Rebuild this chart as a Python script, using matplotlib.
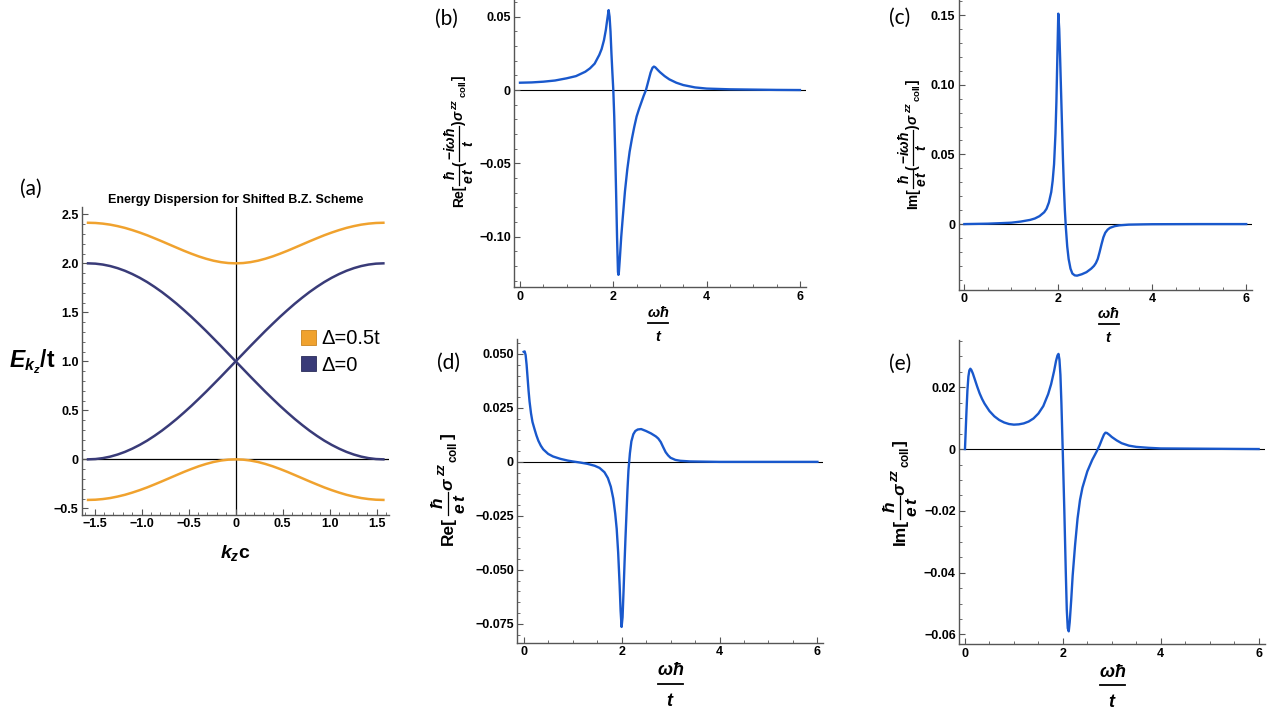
import matplotlib
matplotlib.use('Agg')
import matplotlib.pyplot as plt
from matplotlib.ticker import FixedLocator, MultipleLocator
from matplotlib.patches import Patch
from matplotlib.lines import Line2D

# ---------------- data ----------------
# (a) energy dispersion
kz = [-1.571, -1.492, -1.414, -1.335, -1.257, -1.178, -1.100, -1.021, -0.942, -0.864, -0.785,
      -0.707, -0.628, -0.550, -0.471, -0.393, -0.314, -0.236, -0.157, -0.079, 0.0,
      0.079, 0.157, 0.236, 0.314, 0.393, 0.471, 0.550, 0.628, 0.707, 0.785,
      0.864, 0.942, 1.021, 1.100, 1.178, 1.257, 1.335, 1.414, 1.492, 1.571]
e_gap0_up = [0.0, 0.0031, 0.0123, 0.0276, 0.0489, 0.0761, 0.1090, 0.1474, 0.1910, 0.2396, 0.2929,
             0.3506, 0.4122, 0.4775, 0.5460, 0.6173, 0.6910, 0.7666, 0.8436, 0.9215, 1.0,
             1.0785, 1.1564, 1.2334, 1.3090, 1.3827, 1.4540, 1.5225, 1.5878, 1.6494, 1.7071,
             1.7604, 1.8090, 1.8526, 1.8910, 1.9239, 1.9511, 1.9724, 1.9877, 1.9969, 2.0]
e_gap0_dn = [2.0, 1.9969, 1.9877, 1.9724, 1.9511, 1.9239, 1.8910, 1.8526, 1.8090, 1.7604, 1.7071,
             1.6494, 1.5878, 1.5225, 1.4540, 1.3827, 1.3090, 1.2334, 1.1564, 1.0785, 1.0,
             0.9215, 0.8436, 0.7666, 0.6910, 0.6173, 0.5460, 0.4775, 0.4122, 0.3506, 0.2929,
             0.2396, 0.1910, 0.1474, 0.1090, 0.0761, 0.0489, 0.0276, 0.0123, 0.0031, 0.0]
e_gap5_up = [2.4142, 2.4120, 2.4054, 2.3949, 2.3800, 2.3617, 2.3394, 2.3142, 2.2865, 2.2562, 2.2247,
             2.1925, 2.1600, 2.1282, 2.0982, 2.0707, 2.0467, 2.0269, 2.0122, 2.0031, 2.0,
             2.0031, 2.0122, 2.0269, 2.0467, 2.0707, 2.0982, 2.1282, 2.1600, 2.1925, 2.2247,
             2.2562, 2.2865, 2.3142, 2.3394, 2.3617, 2.3800, 2.3949, 2.4054, 2.4120, 2.4142]
e_gap5_dn = [-0.4142, -0.4120, -0.4054, -0.3949, -0.3800, -0.3617, -0.3394, -0.3142, -0.2865, -0.2562,
             -0.2247, -0.1925, -0.1600, -0.1282, -0.0982, -0.0707, -0.0467, -0.0269, -0.0122, -0.0031,
             0.0,
             -0.0031, -0.0122, -0.0269, -0.0467, -0.0707, -0.0982, -0.1282, -0.1600, -0.1925, -0.2247,
             -0.2562, -0.2865, -0.3142, -0.3394, -0.3617, -0.3800, -0.3949, -0.4054, -0.4120, -0.4142]
legend_labels = ["\u0394=0.5t", "\u0394=0"]

# (b) Re[(hbar/et)(-i w hbar/t) sigma]
xb = [0, 0.25, 0.5, 0.75, 1.0, 1.2, 1.4, 1.5, 1.6, 1.7, 1.75, 1.8, 1.84, 1.87, 1.9, 1.92, 1.94, 1.96,
      1.98, 2.0, 2.02, 2.04, 2.06, 2.08, 2.1, 2.11, 2.12, 2.14, 2.17, 2.2, 2.25, 2.3, 2.35, 2.4, 2.45,
      2.5, 2.55, 2.6, 2.65, 2.7, 2.75, 2.8, 2.84, 2.87, 2.9, 2.95, 3.0, 3.1, 3.2, 3.35, 3.5, 3.75,
      4.0, 4.5, 5.0, 5.5, 6.0]
yb = [0.005, 0.0052, 0.0057, 0.0065, 0.008, 0.0095, 0.0125, 0.0148, 0.018, 0.024, 0.028, 0.034,
      0.041, 0.048, 0.0545, 0.05, 0.04, 0.025, 0.012, 0.0, -0.018, -0.042, -0.07, -0.1, -0.124,
      -0.126, -0.124, -0.115, -0.1, -0.088, -0.069, -0.054, -0.042, -0.033, -0.025, -0.018, -0.013,
      -0.0085, -0.004, 0.0, 0.006, 0.012, 0.0152, 0.016, 0.0155, 0.0138, 0.0122, 0.0095, 0.0073,
      0.005, 0.0034, 0.0018, 0.001, 0.0005, 0.0003, 0.0001, 0.0]

# (c) Im[(hbar/et)(-i w hbar/t) sigma]
xc = [0, 0.5, 0.8, 1.0, 1.2, 1.4, 1.5, 1.6, 1.7, 1.75, 1.8, 1.85, 1.88, 1.91, 1.94, 1.96, 1.98, 2.0,
      2.02, 2.04, 2.06, 2.08, 2.1, 2.12, 2.14, 2.16, 2.19, 2.22, 2.26, 2.3, 2.35, 2.4, 2.45, 2.5, 2.6,
      2.7, 2.76, 2.8, 2.84, 2.88, 2.92, 2.96, 3.0, 3.05, 3.1, 3.2, 3.3, 3.5, 3.8, 4.0, 5.0, 6.0]
yc = [0, 0.0003, 0.0007, 0.001, 0.0018, 0.003, 0.004, 0.0057, 0.0085, 0.011, 0.0155, 0.023, 0.031,
      0.043, 0.065, 0.088, 0.12, 0.151, 0.14, 0.118, 0.094, 0.07, 0.046, 0.026, 0.01, -0.002, -0.016,
      -0.025, -0.032, -0.0355, -0.0368, -0.037, -0.0365, -0.036, -0.0345, -0.032, -0.030, -0.028,
      -0.025, -0.02, -0.0145, -0.0095, -0.0062, -0.004, -0.0027, -0.0015, -0.0009, -0.0004, -0.0002,
      -0.0001, 0, 0]

# (d) Re[(hbar/et) sigma]
xd = [0, 0.02, 0.04, 0.06, 0.08, 0.1, 0.12, 0.15, 0.18, 0.22, 0.26, 0.3, 0.35, 0.4, 0.5, 0.6, 0.75,
      0.9, 1.0, 1.15, 1.3, 1.45, 1.55, 1.65, 1.72, 1.78, 1.83, 1.87, 1.9, 1.93, 1.96, 1.98, 2.0, 2.02,
      2.04, 2.06, 2.08, 2.1, 2.12, 2.14, 2.17, 2.2, 2.24, 2.28, 2.33, 2.4, 2.5, 2.6, 2.7, 2.75, 2.8,
      2.85, 2.9, 2.95, 3.0, 3.1, 3.2, 3.4, 3.7, 4.0, 5.0, 6.0]
yd = [0.051, 0.0512, 0.0495, 0.045, 0.039, 0.033, 0.028, 0.0225, 0.0185, 0.0153, 0.0123, 0.0098,
      0.0075, 0.0058, 0.0037, 0.0025, 0.0014, 0.0006, 0.0002, -0.0003, -0.0009, -0.0018, -0.0028,
      -0.0048, -0.0075, -0.0115, -0.017, -0.024, -0.031, -0.042, -0.057, -0.069, -0.0765, -0.072,
      -0.06, -0.047, -0.035, -0.024, -0.013, -0.004, 0.004, 0.0095, 0.0128, 0.0143, 0.015, 0.0152,
      0.0143, 0.0132, 0.0118, 0.0108, 0.0092, 0.0068, 0.0045, 0.003, 0.0019, 0.0009, 0.0005, 0.0002,
      0.0001, 0, 0, 0]

# (e) Im[(hbar/et) sigma]
xe = [0, 0.01, 0.03, 0.05, 0.07, 0.09, 0.11, 0.13, 0.16, 0.2, 0.25, 0.3, 0.35, 0.4, 0.5, 0.6, 0.7,
      0.8, 0.9, 1.0, 1.1, 1.2, 1.3, 1.4, 1.5, 1.6, 1.7, 1.76, 1.82, 1.86, 1.89, 1.91, 1.93, 1.95, 1.97,
      2.0, 2.03, 2.06, 2.08, 2.1, 2.12, 2.14, 2.17, 2.2, 2.25, 2.3, 2.35, 2.4, 2.5, 2.6, 2.7, 2.75,
      2.8, 2.84, 2.87, 2.9, 2.95, 3.0, 3.1, 3.2, 3.35, 3.5, 3.75, 4.0, 5.0, 6.0]
ye = [0, 0.004, 0.012, 0.019, 0.0235, 0.0255, 0.026, 0.0256, 0.0245, 0.0226, 0.0202, 0.018, 0.0162,
      0.0147, 0.0123, 0.0106, 0.0094, 0.0086, 0.0081, 0.0079, 0.008, 0.0083, 0.0089, 0.0099, 0.0115,
      0.0139, 0.0178, 0.021, 0.0252, 0.0285, 0.0303, 0.0308, 0.029, 0.024, 0.015, -0.002, -0.02,
      -0.04, -0.052, -0.058, -0.059, -0.056, -0.049, -0.041, -0.031, -0.0225, -0.0165, -0.0125,
      -0.0072, -0.0035, -0.0005, 0.0012, 0.0032, 0.0047, 0.0053, 0.0052, 0.0046, 0.0039, 0.0028,
      0.0019, 0.0011, 0.0007, 0.0004, 0.0002, 0.0001, 0]

# tick values / labels
a_xticks = [-1.5, -1.0, -0.5, 0, 0.5, 1.0, 1.5]
a_xticklabels = ["\u22121.5", "\u22121.0", "\u22120.5", "0", "0.5", "1.0", "1.5"]
a_yticks = [-0.5, 0, 0.5, 1.0, 1.5, 2.0, 2.5]
a_yticklabels = ["\u22120.5", "0", "0.5", "1.0", "1.5", "2.0", "2.5"]
w_ticks = [0, 2, 4, 6]
w_ticklabels = ["0", "2", "4", "6"]
b_yticks = [-0.10, -0.05, 0, 0.05]
b_yticklabels = ["\u22120.10", "\u22120.05", "0", "0.05"]
c_yticks = [0, 0.05, 0.10, 0.15]
c_yticklabels = ["0", "0.05", "0.10", "0.15"]
d_yticks = [-0.075, -0.05, -0.025, 0, 0.025, 0.05]
d_yticklabels = ["\u22120.075", "\u22120.050", "\u22120.025", "0", "0.025", "0.050"]
e_yticks = [-0.06, -0.04, -0.02, 0, 0.02]
e_yticklabels = ["\u22120.06", "\u22120.04", "\u22120.02", "0", "0.02"]

# ---------------- style ----------------
plt.rcParams['font.family'] = ['Liberation Sans', 'DejaVu Sans']
plt.rcParams['mathtext.fontset'] = 'custom'
plt.rcParams['mathtext.rm'] = 'Liberation Sans:bold'
plt.rcParams['mathtext.it'] = 'Liberation Sans:italic:bold'
plt.rcParams['mathtext.bf'] = 'Liberation Sans:bold'
plt.rcParams['mathtext.sf'] = 'Liberation Sans:bold'

ORANGE = '#F0A22E'
NAVY = '#393B78'
BLUE = '#1958CC'
SPINE = '#555555'

W, H = 1278, 714
fig = plt.figure(figsize=(W / 100, H / 100), dpi=100)
renderer = fig.canvas.get_renderer()


def px_axes(l, t, r, b):
    return fig.add_axes([l / W, 1 - b / H, (r - l) / W, (b - t) / H])


def style(ax, xt, xtl, xminor, yt, ytl, yminor):
    for s in ['top', 'right']:
        ax.spines[s].set_visible(False)
    for s in ['left', 'bottom']:
        ax.spines[s].set_color(SPINE)
        ax.spines[s].set_linewidth(1.0)
    ax.xaxis.set_major_locator(FixedLocator(xt))
    ax.set_xticklabels(xtl)
    ax.xaxis.set_minor_locator(MultipleLocator(xminor))
    ax.yaxis.set_major_locator(FixedLocator(yt))
    ax.set_yticklabels(ytl)
    ax.yaxis.set_minor_locator(MultipleLocator(yminor))
    ax.tick_params(which='both', direction='in', color=SPINE, labelcolor='black',
                   labelsize=9, pad=2.5)
    ax.tick_params(which='major', length=4.3, width=0.8)
    ax.tick_params(which='minor', length=2.4, width=0.6)
    for lab in ax.get_xticklabels() + ax.get_yticklabels():
        lab.set_fontweight('bold')
    ax.patch.set_alpha(0)


def fx(x):
    return x / W


def fy(y):
    return 1 - y / H


def omega_frac(xc, y_num, y_line, y_den, half_w, size):
    """x-axis label  (omega hbar) / t  drawn as a stacked fraction."""
    fig.text(fx(xc), fy(y_num), r'$\omega\hbar$', fontsize=size, ha='center', va='center')
    fig.add_artist(Line2D([fx(xc - half_w), fx(xc + half_w)], [fy(y_line), fy(y_line)],
                          transform=fig.transFigure, color='black', lw=1.3))
    fig.text(fx(xc), fy(y_den), r'$t$', fontsize=size, ha='center', va='center')


def _rot_text(s, size, ha='left'):
    return fig.text(0, 0, s, fontsize=size, fontweight='bold', rotation=90,
                    rotation_mode='anchor', ha=ha, va='baseline')


def _length(t):
    return t.get_window_extent(renderer=renderer).height


def stacked_ylabel(items, x_base, y_bottom, y_top, size):
    """Vertical (rotated) label built from pieces, with real stacked fractions.
    items: ('t', text, v_offset_em, scale, gap_weight) or ('f', num, den, gap_weight)."""
    em = size * 100 / 72
    built = []
    total = 0.0
    wsum = 0.0
    for it in items:
        if it[0] == 't':
            _, s, v_em, sc, g = it
            t = _rot_text(s, size * sc)
            w = _length(t)
            built.append(('t', t, v_em, w, g))
        else:
            _, num, den, g = it
            tn = _rot_text(num, size, 'center')
            td = _rot_text(den, size, 'center')
            w = max(_length(tn), _length(td)) + 0.12 * em
            built.append(('f', (tn, td), 0, w, g))
        total += w
        wsum += g
    span = y_bottom - y_top
    unit = max((span - total) / wsum, 0.3) if wsum > 0 else 0
    full = total + unit * wsum
    u = (span - full) / 2
    bar_v = 0.28 * em
    for kind, obj, v_em, w, g in built:
        if kind == 't':
            obj.set_position((fx(x_base - v_em * em), fy(y_bottom - u)))
        else:
            tn, td = obj
            uc = u + w / 2
            tn.set_position((fx(x_base - (bar_v + 0.3 * em)), fy(y_bottom - uc)))
            td.set_position((fx(x_base - (bar_v - 0.3 * em - 0.68 * em)), fy(y_bottom - uc)))
            fig.add_artist(Line2D([fx(x_base - bar_v)] * 2,
                                  [fy(y_bottom - u), fy(y_bottom - u - w)],
                                  transform=fig.transFigure, color='black', lw=0.9))
        u += w + unit * g


# ---------------- (a) ----------------
axa = px_axes(82, 207, 389.3, 515)
axa.set_xlim(-1.635, 1.634)
axa.set_ylim(-0.568, 2.575)
axa.axhline(0, color='black', lw=0.9, zorder=1)
axa.axvline(0, color='black', lw=0.9, zorder=1)
axa.plot(kz, e_gap5_up, color=ORANGE, lw=1.8, zorder=3)
axa.plot(kz, e_gap5_dn, color=ORANGE, lw=1.8, zorder=3)
axa.plot(kz, e_gap0_up, color=NAVY, lw=1.8, zorder=3)
axa.plot(kz, e_gap0_dn, color=NAVY, lw=1.8, zorder=3)
style(axa, a_xticks, a_xticklabels, 0.1, a_yticks, a_yticklabels, 0.1)
axa.set_title("Energy Dispersion for Shifted B.Z. Scheme", fontsize=9, fontweight='bold', pad=3)
handles = [Patch(facecolor=ORANGE, edgecolor='#C98420', lw=0.6),
           Patch(facecolor=NAVY, edgecolor='#2A2C5A', lw=0.6)]
axa.legend(handles, legend_labels, loc='center left', bbox_to_anchor=(fx(301), fy(352)),
           bbox_transform=fig.transFigure, frameon=False, fontsize=14.5,
           handlelength=0.75, handleheight=0.75, handletextpad=0.25, labelspacing=0.35,
           borderpad=0, borderaxespad=0)
fig.text(fx(32), fy(362), r'$E_{k_z}$/t', fontsize=16.5, fontweight='bold', ha='center', va='center')
fig.text(fx(235.7), fy(553), r'$k_z$c', fontsize=14, fontweight='bold', ha='center', va='center')

# y-label pieces
long_tail = [('t', '(', 0, 1.0, 0.3),
             ('f', r'$-i\omega\hbar$', r'$t$', 0.3),
             ('t', ')', 0, 1.0, 0.5)]
sigma_part = [('t', r'$\sigma$', 0, 1.0, 0),
              ('t', r'$zz$', 0.42, 0.68, 0),
              ('t', r'$\mathrm{coll}$', -0.22, 0.68, 0.6),
              ('t', ']', 0, 1.0, 0)]


def label_items(prefix, with_omega):
    items = [('t', prefix + '[', 0, 1.0, 0.6), ('f', r'$\hbar$', r'$e\,t$', 0.4)]
    if with_omega:
        items += long_tail
    return items + sigma_part


# ---------------- (b) ----------------
axb = px_axes(514.3, 0, 806, 287.3)
axb.set_xlim(-0.122, 6.13)
axb.set_ylim(-0.1345, 0.0614)
axb.axhline(0, color='black', lw=0.8, zorder=1)
axb.plot(xb, yb, color=BLUE, lw=1.7, zorder=3)
style(axb, w_ticks, w_ticklabels, 0.5, b_yticks, b_yticklabels, 0.01)
stacked_ylabel(label_items('Re', True), 463.3, 205, 78, 10)
omega_frac(658.3, 312.3, 322.7, 336.7, 10, 10.5)

# ---------------- (c) ----------------
axc = px_axes(958.7, 0, 1252.3, 290)
axc.set_xlim(-0.12, 6.13)
axc.set_ylim(-0.0473, 0.1608)
axc.axhline(0, color='black', lw=0.8, zorder=1)
axc.plot(xc, yc, color=BLUE, lw=1.7, zorder=3)
style(axc, w_ticks, w_ticklabels, 0.5, c_yticks, c_yticklabels, 0.01)
stacked_ylabel(label_items('Im', True), 916.7, 206.7, 81.7, 10)
omega_frac(1108.7, 314, 324.3, 338.3, 10, 10.5)

# ---------------- (d) ----------------
axd = px_axes(517.3, 339.3, 823.3, 642.7)
axd.set_xlim(-0.13, 6.12)
axd.set_ylim(-0.0838, 0.0568)
axd.axhline(0, color='black', lw=0.8, zorder=1)
axd.plot(xd, yd, color=BLUE, lw=1.7, zorder=3)
style(axd, w_ticks, w_ticklabels, 0.5, d_yticks, d_yticklabels, 0.005)
stacked_ylabel(label_items('Re', False), 452.7, 545, 433, 12.5)
omega_frac(670.7, 670.7, 684.3, 701.7, 12.5, 13)

# ---------------- (e) ----------------
axe = px_axes(959.3, 340, 1265, 644.3)
axe.set_xlim(-0.116, 6.13)
axe.set_ylim(-0.0632, 0.0353)
axe.axhline(0, color='black', lw=0.8, zorder=1)
axe.plot(xe, ye, color=BLUE, lw=1.7, zorder=3)
style(axe, w_ticks, w_ticklabels, 0.5, e_yticks, e_yticklabels, 0.005)
stacked_ylabel(label_items('Im', False), 905, 545, 440, 12.5)
omega_frac(1112.3, 672.3, 685, 702.7, 12.5, 13)

# panel labels
for lab, x, y in [("(a)", 31, 189), ("(b)", 446.7, 19), ("(c)", 899.5, 18),
                  ("(d)", 448.3, 363), ("(e)", 900, 364)]:
    fig.text(fx(x), fy(y), lab, fontsize=15, family=['Lato', 'DejaVu Sans'],
             ha='center', va='center')

fig.savefig('out.png', dpi=100)
